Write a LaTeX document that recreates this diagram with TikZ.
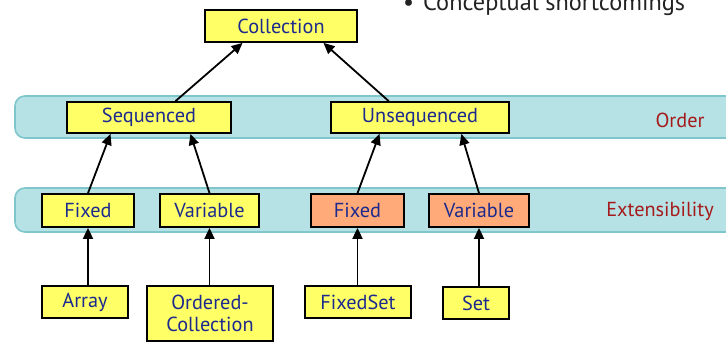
\documentclass[tikz,border=0pt]{standalone}
\usepackage{fontspec}
\setmainfont{PT Sans}
\usetikzlibrary{arrows.meta,calc}
\definecolor{boxyellow}{HTML}{FFFF66}
\definecolor{boxorange}{HTML}{FFAA78}
\definecolor{txtblue}{HTML}{1C2A8E}
\definecolor{txtred}{HTML}{A51A1A}
\definecolor{bandfill}{HTML}{B7E2E5}
\definecolor{bandline}{HTML}{7EC6CC}
\definecolor{headgray}{HTML}{222222}
\tikzset{
  cls/.style={draw=black, line width=1.8pt, fill=boxyellow, text=txtblue,
    font=\fontsize{20.3}{22}\selectfont, inner sep=0pt, align=center},
  clsor/.style={cls, fill=boxorange},
  band/.style={draw=bandline, line width=1.6pt, fill=bandfill, rounded corners=10pt},
  bandlabel/.style={text=txtred, font=\fontsize{20.3}{22}\selectfont, inner sep=0pt},
  inh/.style={draw=black, line width=1.8pt, -{Triangle[length=11pt,width=10pt]}},
}
\begin{document}
\begin{tikzpicture}[x=1pt,y=-1pt]
\useasboundingbox (0,0) rectangle (726,342);
\clip (0,0) rectangle (726,342);
% bands
\path[band] (15,96) rectangle (760,138);
\path[band] (15,188) rectangle (760,232);
\node[bandlabel] (order) at (680,120) {Order};
\node[bandlabel] (ext) at (660,211) {Extensibility};
% heading
\node[anchor=base west, inner sep=0pt, text=headgray, font=\fontsize{24.3}{26}\selectfont] (head) at (403,11) {\textbullet\hspace{9pt}Conceptual shortcomings};
% boxes
\node[cls, minimum width=152, minimum height=32] (coll) at (281,26) {Collection};
\node[cls, minimum width=164, minimum height=31] (seq) at (149,117.5) {Sequenced};
\node[cls, minimum width=178, minimum height=31] (unseq) at (420,117.5) {Unsequenced};
\node[cls, minimum width=92, minimum height=33] (fix1) at (88,210.5) {Fixed};
\node[cls, minimum width=99, minimum height=33] (var1) at (209.5,210.5) {Variable};
\node[clsor, minimum width=93, minimum height=33] (fix2) at (357.5,210.5) {Fixed};
\node[clsor, minimum width=100, minimum height=33] (var2) at (479,210.5) {Variable};
\node[cls, minimum width=86, minimum height=32] (arr) at (85,302) {Array};
\node[cls, minimum width=126, minimum height=55] (oc) at (210,313.5) {Ordered-\\Collection};
\node[cls, minimum width=106, minimum height=32] (fset) at (358,302) {FixedSet};
\node[cls, minimum width=66, minimum height=32] (set) at (476,303) {Set};
% inheritance arrows
\draw[inh] ($(seq.north west)!0.66!(seq.north east)$) -- ($(coll.south west)!0.25!(coll.south east)$);
\draw[inh] ($(unseq.north west)!0.326!(unseq.north east)$) -- ($(coll.south west)!0.776!(coll.south east)$);
\draw[inh] (fix1.north) -- ($(seq.south west)!0.268!(seq.south east)$);
\draw[inh] (var1.north) -- ($(seq.south west)!0.75!(seq.south east)$);
\draw[inh] (fix2.north) -- ($(unseq.south west)!0.275!(unseq.south east)$);
\draw[inh] (var2.north) -- ($(unseq.south west)!0.73!(unseq.south east)$);
\draw[inh] (arr.north -| fix1.south) -- (fix1.south);
\draw[inh] (oc.north -| var1.south) -- (var1.south);
\draw[inh] (fset.north -| fix2.south) -- (fix2.south);
\draw[inh] (set.north -| var2.south) -- (var2.south);
\end{tikzpicture}
\end{document}
